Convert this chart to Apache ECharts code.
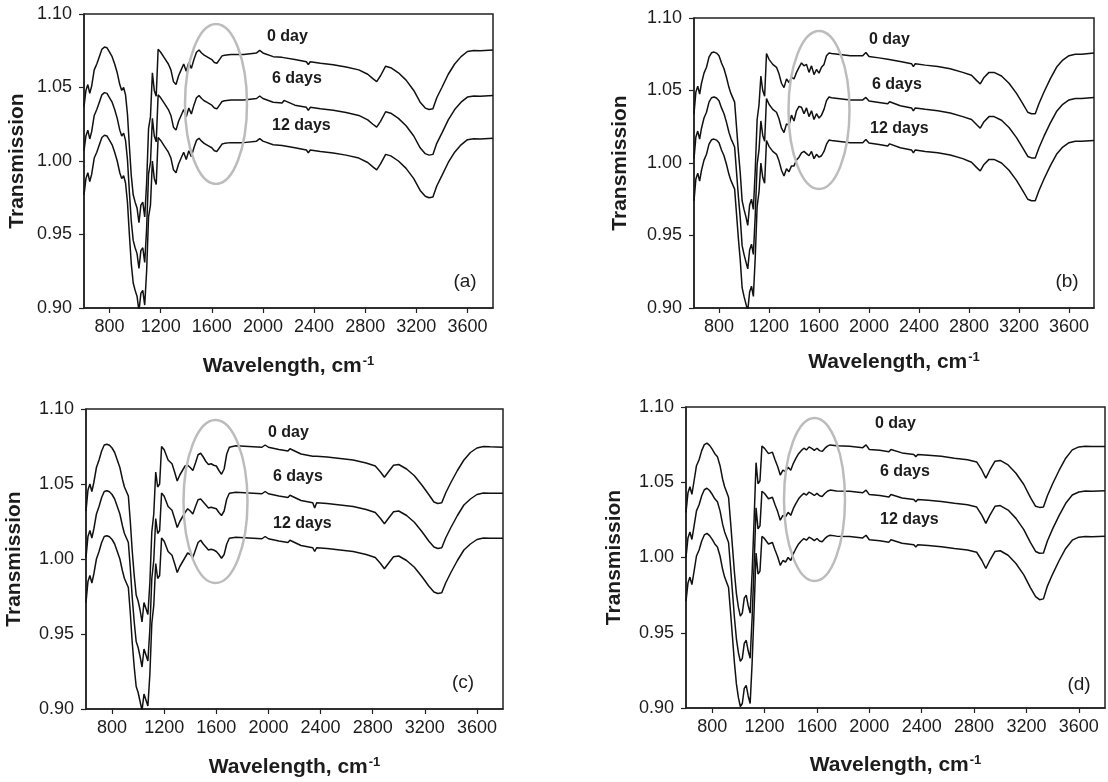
<!DOCTYPE html>
<html>
<head>
<meta charset="utf-8">
<script src="https://cdn.jsdelivr.net/npm/echarts@6/dist/echarts.min.js"></script>
<style>
  html, body { margin: 0; background: #fff; }
  #chart { width: 1108px; height: 782px; }
</style>
</head>
<body>
<div id="chart"></div>
<script>
// wavenumber grid (cm-1) shared by every spectrum
var wavenumbers = [
  600, 615, 630, 645, 660, 680, 700, 720, 740, 760,
  780, 800, 820, 840, 860, 880, 895, 910, 925, 940,
  955, 970, 985, 1000, 1015, 1030, 1045, 1060, 1075, 1090,
  1105, 1120, 1135, 1150, 1165, 1180, 1200, 1230, 1260, 1280,
  1300, 1320, 1340, 1360, 1380, 1400, 1420, 1440, 1460, 1480,
  1500, 1520, 1540, 1560, 1580, 1600, 1620, 1640, 1660, 1680,
  1700, 1750, 1850, 1950, 1975, 2000, 2080, 2150, 2165, 2250,
  2340, 2355, 2370, 2450, 2550, 2650, 2750, 2820, 2860, 2890,
  2920, 2960, 3000, 3060, 3120, 3180, 3230, 3270, 3300, 3330,
  3360, 3400, 3450, 3500, 3550, 3600, 3650, 3700, 3800
]
var xTickValues = [800, 1200, 1600, 2000, 2400, 2800, 3200, 3600]
var dayLabels = ['0 day', '6 days', '12 days']
var panelLetters = ['(a)', '(b)', '(c)', '(d)']

/* (a) */
var transA0 = [
  1.037, 1.048, 1.052, 1.046, 1.051, 1.062, 1.066, 1.071, 1.076, 1.0775,
  1.077, 1.074, 1.071, 1.066, 1.060, 1.052, 1.048, 1.050, 1.045, 1.032,
  1.010, 0.990, 0.977, 0.972, 0.968, 0.958, 0.970, 0.972, 0.962, 0.985,
  1.022, 1.030, 1.060, 1.048, 1.044, 1.076, 1.074, 1.070, 1.066, 1.062,
  1.054, 1.052, 1.058, 1.062, 1.066, 1.061, 1.067, 1.063, 1.069, 1.074,
  1.0755, 1.0735, 1.072, 1.071, 1.070, 1.069, 1.067, 1.0665, 1.069, 1.0715,
  1.072, 1.0725, 1.0725, 1.0735, 1.0752, 1.0735, 1.071, 1.0705, 1.0718, 1.069,
  1.0675, 1.0655, 1.0675, 1.0665, 1.0655, 1.064, 1.062, 1.059, 1.056, 1.054,
  1.058, 1.0645, 1.0635, 1.060, 1.055, 1.048, 1.040, 1.036, 1.035, 1.0355,
  1.043, 1.050, 1.059, 1.066, 1.071, 1.0745, 1.0752, 1.075, 1.0755
]
var transA6 = [
  1.007, 1.017, 1.021, 1.015, 1.020, 1.031, 1.035, 1.040, 1.045, 1.0465,
  1.046, 1.043, 1.040, 1.035, 1.029, 1.021, 1.017, 1.019, 1.014, 1.001,
  0.979, 0.959, 0.946, 0.941, 0.937, 0.927, 0.939, 0.941, 0.931, 0.954,
  0.991, 0.999, 1.029, 1.017, 1.013, 1.045, 1.043, 1.039, 1.035, 1.031,
  1.023, 1.021, 1.027, 1.031, 1.035, 1.030, 1.036, 1.032, 1.038, 1.043,
  1.0445, 1.0425, 1.041, 1.040, 1.039, 1.038, 1.036, 1.0355, 1.038, 1.0405,
  1.041, 1.0415, 1.0415, 1.0425, 1.0442, 1.0425, 1.040, 1.0395, 1.0412, 1.038,
  1.0365, 1.0345, 1.0365, 1.0355, 1.0345, 1.033, 1.031, 1.028, 1.025, 1.023,
  1.027, 1.0335, 1.0325, 1.029, 1.024, 1.017, 1.009, 1.005, 1.004, 1.0045,
  1.012, 1.019, 1.028, 1.035, 1.040, 1.0435, 1.0442, 1.044, 1.0445
]
var transA12 = [
  0.977, 0.988, 0.992, 0.986, 0.991, 1.002, 1.006, 1.011, 1.016, 1.0175,
  1.017, 1.014, 1.011, 1.006, 1.000, 0.992, 0.988, 0.990, 0.985, 0.972,
  0.950, 0.930, 0.917, 0.912, 0.908, 0.898, 0.910, 0.912, 0.902, 0.925,
  0.962, 0.970, 1.000, 0.988, 0.984, 1.016, 1.014, 1.010, 1.006, 1.002,
  0.994, 0.992, 0.998, 1.002, 1.006, 1.001, 1.007, 1.003, 1.009, 1.014,
  1.0155, 1.0135, 1.012, 1.011, 1.010, 1.009, 1.007, 1.0065, 1.009, 1.0115,
  1.012, 1.0125, 1.0125, 1.0135, 1.0152, 1.0135, 1.011, 1.0105, 1.0118, 1.009,
  1.0075, 1.0055, 1.0075, 1.0065, 1.0055, 1.004, 1.002, 0.999, 0.996, 0.994,
  0.998, 1.0045, 1.0035, 1.000, 0.995, 0.988, 0.980, 0.976, 0.975, 0.9755,
  0.983, 0.990, 0.999, 1.006, 1.011, 1.0145, 1.0152, 1.015, 1.0155
]

/* (b) */
var transB0 = [
  1.034, 1.049, 1.053, 1.0475, 1.055, 1.062, 1.066, 1.073, 1.076, 1.0765,
  1.0758, 1.074, 1.069, 1.065, 1.059, 1.052, 1.048, 1.049, 1.042, 1.025,
  1.008, 0.993, 0.974, 0.968, 0.963, 0.957, 0.971, 0.975, 0.968, 0.995,
  1.030, 1.040, 1.060, 1.050, 1.046, 1.0755, 1.0715, 1.068, 1.066, 1.0615,
  1.055, 1.052, 1.058, 1.0555, 1.059, 1.058, 1.0625, 1.066, 1.069, 1.067,
  1.068, 1.0625, 1.067, 1.061, 1.0645, 1.062, 1.066, 1.068, 1.074, 1.0758,
  1.0755, 1.075, 1.074, 1.074, 1.0762, 1.0735, 1.0725, 1.0715, 1.0728, 1.070,
  1.0685, 1.0665, 1.0685, 1.0675, 1.0665, 1.065, 1.0625, 1.0605, 1.057, 1.0545,
  1.059, 1.0625, 1.0625, 1.060, 1.055, 1.048, 1.041, 1.035, 1.034, 1.034,
  1.041, 1.049, 1.058, 1.066, 1.071, 1.074, 1.075, 1.075, 1.0758
]
var transB6 = [
  1.003, 1.018, 1.022, 1.0165, 1.024, 1.031, 1.035, 1.042, 1.045, 1.0455,
  1.0448, 1.043, 1.038, 1.034, 1.028, 1.021, 1.017, 1.018, 1.011, 0.994,
  0.977, 0.962, 0.943, 0.937, 0.932, 0.927, 0.940, 0.944, 0.937, 0.964,
  0.999, 1.009, 1.029, 1.019, 1.015, 1.0445, 1.0405, 1.037, 1.035, 1.0305,
  1.024, 1.021, 1.027, 1.026, 1.033, 1.029, 1.036, 1.039, 1.0385, 1.034,
  1.038, 1.032, 1.036, 1.030, 1.034, 1.031, 1.033, 1.037, 1.043, 1.0455,
  1.045, 1.0445, 1.0435, 1.0435, 1.0452, 1.0428, 1.0418, 1.0408, 1.0422, 1.0395,
  1.038, 1.036, 1.038, 1.037, 1.036, 1.0345, 1.032, 1.030, 1.0265, 1.024,
  1.0285, 1.032, 1.032, 1.0295, 1.0245, 1.0175, 1.0105, 1.0045, 1.0035, 1.0035,
  1.0105, 1.0185, 1.0275, 1.0355, 1.0405, 1.0435, 1.0445, 1.0445, 1.0452
]
var transB12 = [
  0.974, 0.989, 0.993, 0.9875, 0.995, 1.002, 1.006, 1.013, 1.016, 1.0165,
  1.0158, 1.014, 1.009, 1.005, 0.999, 0.992, 0.988, 0.989, 0.982, 0.965,
  0.948, 0.933, 0.914, 0.908, 0.903, 0.898, 0.911, 0.915, 0.908, 0.935,
  0.970, 0.980, 1.000, 0.990, 0.986, 1.0155, 1.0115, 1.008, 1.006, 1.0015,
  0.995, 0.991, 0.996, 0.994, 0.998, 0.998, 1.002, 1.004, 1.007, 1.008,
  1.0065, 1.005, 1.008, 1.003, 1.006, 1.004, 1.005, 1.008, 1.013, 1.0158,
  1.0155, 1.015, 1.014, 1.014, 1.0162, 1.0138, 1.0128, 1.0118, 1.0132, 1.0105,
  1.009, 1.007, 1.009, 1.008, 1.007, 1.0055, 1.003, 1.0005, 0.997, 0.9945,
  0.999, 1.0025, 1.0025, 1.000, 0.995, 0.988, 0.981, 0.975, 0.974, 0.974,
  0.981, 0.989, 0.998, 1.006, 1.011, 1.014, 1.015, 1.015, 1.0155
]

/* (c) */
var transC0 = [
  1.032, 1.046, 1.050, 1.045, 1.051, 1.061, 1.066, 1.072, 1.076, 1.0765,
  1.0758, 1.074, 1.071, 1.066, 1.061, 1.053, 1.048, 1.049, 1.042, 1.025,
  1.005, 0.989, 0.976, 0.972, 0.966, 0.958, 0.971, 0.967, 0.963, 0.984,
  1.018, 1.030, 1.058, 1.048, 1.050, 1.075, 1.0728, 1.066, 1.0635, 1.058,
  1.052, 1.056, 1.059, 1.062, 1.0625, 1.061, 1.059, 1.064, 1.0695, 1.0705,
  1.068, 1.065, 1.063, 1.0635, 1.0625, 1.062, 1.059, 1.0565, 1.060, 1.070,
  1.0745, 1.0755, 1.075, 1.0745, 1.076, 1.0745, 1.073, 1.072, 1.0735, 1.070,
  1.0685, 1.0675, 1.0685, 1.068, 1.067, 1.066, 1.064, 1.062, 1.058, 1.0545,
  1.058, 1.0625, 1.063, 1.060, 1.0555, 1.049, 1.043, 1.038, 1.037, 1.0375,
  1.044, 1.051, 1.059, 1.066, 1.071, 1.074, 1.075, 1.0748, 1.0745
]
var transC6 = [
  1.001, 1.015, 1.019, 1.014, 1.020, 1.030, 1.035, 1.041, 1.045, 1.0455,
  1.0448, 1.043, 1.040, 1.035, 1.030, 1.022, 1.017, 1.018, 1.011, 0.994,
  0.974, 0.958, 0.945, 0.941, 0.935, 0.928, 0.940, 0.936, 0.932, 0.953,
  0.987, 0.999, 1.027, 1.017, 1.019, 1.044, 1.0418, 1.035, 1.0325, 1.027,
  1.021, 1.025, 1.028, 1.031, 1.0335, 1.032, 1.030, 1.035, 1.0395, 1.040,
  1.038, 1.036, 1.034, 1.0345, 1.034, 1.0335, 1.031, 1.029, 1.032, 1.040,
  1.0438, 1.0445, 1.044, 1.0435, 1.045, 1.0435, 1.042, 1.041, 1.0425, 1.039,
  1.0375, 1.034, 1.0375, 1.037, 1.036, 1.035, 1.033, 1.031, 1.027, 1.0235,
  1.027, 1.0315, 1.032, 1.029, 1.0245, 1.018, 1.012, 1.008, 1.007, 1.0075,
  1.014, 1.021, 1.029, 1.036, 1.040, 1.043, 1.044, 1.0438, 1.0438
]
var transC12 = [
  0.971, 0.985, 0.989, 0.984, 0.990, 1.000, 1.005, 1.011, 1.015, 1.0155,
  1.0148, 1.013, 1.010, 1.005, 1.000, 0.992, 0.987, 0.988, 0.981, 0.964,
  0.944, 0.928, 0.915, 0.911, 0.905, 0.899, 0.910, 0.906, 0.902, 0.923,
  0.957, 0.969, 0.997, 0.987, 0.989, 1.014, 1.0118, 1.005, 1.0025, 0.997,
  0.991, 0.995, 0.998, 1.001, 1.004, 1.003, 1.001, 1.006, 1.011, 1.0125,
  1.010, 1.008, 1.006, 1.0065, 1.006, 1.005, 1.003, 1.0005, 1.003, 1.010,
  1.0138, 1.0145, 1.014, 1.0135, 1.015, 1.0135, 1.012, 1.011, 1.0125, 1.009,
  1.0075, 1.005, 1.0075, 1.007, 1.006, 1.005, 1.003, 1.001, 0.997, 0.9935,
  0.997, 1.0015, 1.002, 0.999, 0.9945, 0.988, 0.982, 0.978, 0.977, 0.9775,
  0.984, 0.991, 0.999, 1.006, 1.010, 1.013, 1.014, 1.0138, 1.0138
]

/* (d) */
var transD0 = [
  1.030, 1.043, 1.047, 1.042, 1.050, 1.061, 1.065, 1.071, 1.075, 1.076,
  1.0745, 1.072, 1.069, 1.067, 1.061, 1.052, 1.047, 1.047, 1.040, 1.024,
  1.007, 0.990, 0.976, 0.967, 0.961, 0.963, 0.973, 0.975, 0.968, 0.963,
  0.990, 1.025, 1.063, 1.049, 1.051, 1.074, 1.0725, 1.069, 1.070, 1.065,
  1.0605, 1.0548, 1.058, 1.057, 1.060, 1.058, 1.0626, 1.066, 1.069, 1.071,
  1.0726, 1.0715, 1.0735, 1.0725, 1.0712, 1.0726, 1.071, 1.0705, 1.0725, 1.074,
  1.0748, 1.0742, 1.074, 1.073, 1.0748, 1.0718, 1.0712, 1.0702, 1.0718, 1.0695,
  1.0685, 1.067, 1.0685, 1.068, 1.0672, 1.066, 1.065, 1.0635, 1.058, 1.0527,
  1.058, 1.064, 1.0645, 1.0615, 1.056, 1.0485, 1.040, 1.034, 1.0333, 1.0335,
  1.041, 1.049, 1.058, 1.066, 1.0715, 1.0735, 1.074, 1.0738, 1.0738
]
var transD6 = [
  1.000, 1.013, 1.017, 1.012, 1.020, 1.031, 1.035, 1.041, 1.045, 1.046,
  1.0445, 1.042, 1.039, 1.037, 1.031, 1.022, 1.017, 1.017, 1.010, 0.994,
  0.977, 0.960, 0.946, 0.937, 0.931, 0.933, 0.943, 0.945, 0.938, 0.933,
  0.960, 0.995, 1.033, 1.019, 1.021, 1.044, 1.0425, 1.039, 1.040, 1.035,
  1.0305, 1.0248, 1.028, 1.027, 1.030, 1.028, 1.0326, 1.036, 1.039, 1.041,
  1.0426, 1.0415, 1.0435, 1.0425, 1.0412, 1.0426, 1.041, 1.0405, 1.0425, 1.044,
  1.0448, 1.0442, 1.044, 1.043, 1.0448, 1.0418, 1.0412, 1.0402, 1.0418, 1.0395,
  1.0385, 1.037, 1.0385, 1.038, 1.0372, 1.036, 1.035, 1.0335, 1.028, 1.0227,
  1.028, 1.034, 1.0345, 1.0315, 1.026, 1.0185, 1.010, 1.004, 1.0028, 1.003,
  1.011, 1.019, 1.028, 1.036, 1.0415, 1.0435, 1.0442, 1.044, 1.0444
]
var transD12 = [
  0.971, 0.983, 0.987, 0.982, 0.990, 1.001, 1.005, 1.011, 1.015, 1.016,
  1.0145, 1.012, 1.009, 1.007, 1.001, 0.992, 0.987, 0.987, 0.980, 0.964,
  0.947, 0.930, 0.916, 0.907, 0.901, 0.903, 0.913, 0.915, 0.908, 0.903,
  0.930, 0.965, 1.003, 0.989, 0.991, 1.014, 1.0125, 1.009, 1.010, 1.005,
  1.0005, 0.9948, 0.998, 0.997, 1.000, 0.998, 1.0026, 1.006, 1.009, 1.011,
  1.0126, 1.0115, 1.0135, 1.0125, 1.0112, 1.0126, 1.011, 1.0105, 1.0125, 1.014,
  1.0148, 1.0142, 1.014, 1.013, 1.0148, 1.0118, 1.0112, 1.0102, 1.0118, 1.0095,
  1.0085, 1.007, 1.0085, 1.008, 1.0072, 1.006, 1.005, 1.0035, 0.998, 0.9927,
  0.998, 1.004, 1.0045, 1.0015, 0.996, 0.9885, 0.980, 0.974, 0.972, 0.9725,
  0.981, 0.989, 0.998, 1.006, 1.0115, 1.0135, 1.014, 1.0138, 1.0142
]

var spectra = [
  [transA0, transA6, transA12],
  [transB0, transB6, transB12],
  [transC0, transC6, transC12],
  [transD0, transD6, transD12]
]

// layout of the four panels (pixels)
var panels = [
  {left: 84, top: 14, width: 409, height: 294, yGap: 56, xGap: 47,
   ellipse: [216, 104, 31, 80], days: [[267, 37], [272, 79], [272, 126]], letter: [465, 282]},
  {left: 694, top: 18, width: 400, height: 290, yGap: 63, xGap: 43,
   ellipse: [819, 110, 30.5, 79], days: [[869, 40], [872, 85], [870, 129]], letter: [1067, 282]},
  {left: 86, top: 409, width: 417, height: 300, yGap: 61, xGap: 47,
   ellipse: [215.5, 501.5, 32, 81.5], days: [[268, 433], [273, 477], [273, 524]], letter: [463, 683]},
  {left: 686, top: 407, width: 419, height: 301, yGap: 61, xGap: 46,
   ellipse: [814.5, 499.5, 30.5, 81.5], days: [[875, 424], [880, 472], [880, 520]], letter: [1079, 685]}
]

var FONT = 'Liberation Sans, Arial, sans-serif'
var INK = '#1c1c1c'

var grids = [], xAxes = [], yAxes = [], series = [], graphics = []
panels.forEach(function (p, i) {
  grids.push({
    left: p.left, top: p.top, width: p.width, height: p.height,
    show: true, borderColor: '#222', borderWidth: 1.5
  })
  xAxes.push({
    gridIndex: i, type: 'value', min: 600, max: 3800,
    axisLine: {show: true, onZero: false, lineStyle: {color: '#222', width: 1.5}},
    axisTick: {show: true, inside: false, length: 5, customValues: xTickValues, lineStyle: {color: '#222', width: 1.2}},
    axisLabel: {
      customValues: xTickValues, fontFamily: FONT, fontSize: 18, color: INK, margin: 10,
      formatter: function (v) { return String(v) }
    },
    splitLine: {show: false},
    name: 'Wavelength, cm{sup|-1}', nameLocation: 'middle', nameGap: p.xGap,
    nameTextStyle: {
      fontFamily: FONT, fontSize: 21, fontWeight: 'bold', color: INK,
      rich: {sup: {fontFamily: FONT, fontSize: 13, fontWeight: 'bold', color: INK, verticalAlign: 'top', padding: [0, 0, 10, 1]}}
    }
  })
  yAxes.push({
    gridIndex: i, type: 'value', min: 0.9, max: 1.1, interval: 0.05,
    axisLine: {show: true, lineStyle: {color: '#222', width: 1.5}},
    axisTick: {show: true, inside: false, length: 5, lineStyle: {color: '#222', width: 1.2}},
    axisLabel: {fontFamily: FONT, fontSize: 18, color: INK, margin: 12, formatter: function (v) { return v.toFixed(2) }},
    splitLine: {show: false},
    name: 'Transmission', nameLocation: 'middle', nameGap: p.yGap,
    nameTextStyle: {fontFamily: FONT, fontSize: 21, fontWeight: 'bold', color: INK}
  })
  spectra[i].forEach(function (ys) {
    series.push({
      type: 'line', xAxisIndex: i, yAxisIndex: i,
      symbol: 'none', showSymbol: false, clip: true,
      lineStyle: {color: '#111', width: 1.5},
      data: wavenumbers.map(function (w, k) { return [w, ys[k]] })
    })
  })
  graphics.push({
    type: 'ellipse', z: 100,
    shape: {cx: p.ellipse[0], cy: p.ellipse[1], rx: p.ellipse[2], ry: p.ellipse[3]},
    style: {fill: 'none', stroke: '#bcbcbc', lineWidth: 2.5}
  })
  p.days.forEach(function (pos, d) {
    graphics.push({
      type: 'text', z: 100, x: pos[0], y: pos[1],
      style: {text: dayLabels[d], font: 'bold 16px ' + FONT, fill: INK, textAlign: 'left', textVerticalAlign: 'middle'}
    })
  })
  graphics.push({
    type: 'text', z: 100, x: p.letter[0], y: p.letter[1],
    style: {text: panelLetters[i], font: '19px ' + FONT, fill: INK, textAlign: 'center', textVerticalAlign: 'middle'}
  })
})

var chart = echarts.init(document.getElementById('chart'), null, {renderer: 'canvas'})
chart.setOption({
  animation: false,
  backgroundColor: '#fff',
  grid: grids,
  xAxis: xAxes,
  yAxis: yAxes,
  series: series,
  graphic: graphics
})
</script>
</body>
</html>
